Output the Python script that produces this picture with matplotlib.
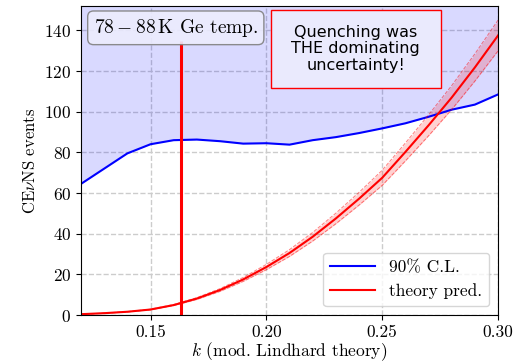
import matplotlib
matplotlib.use("Agg")
import matplotlib.pyplot as plt
from matplotlib.patches import Rectangle
import numpy as np

plt.rcParams['font.family'] = 'cmr10'
plt.rcParams['mathtext.fontset'] = 'cm'
plt.rcParams['axes.formatter.use_mathtext'] = True
plt.rcParams['axes.unicode_minus'] = False

# 90% C.L. upper limit
k_cl = [0.12, 0.14, 0.15, 0.16, 0.17, 0.18, 0.19, 0.20, 0.21, 0.22, 0.23,
        0.24, 0.25, 0.26, 0.27, 0.28, 0.29, 0.30]
n_cl = [64.5, 79.5, 84.0, 86.0, 86.3, 85.5, 84.3, 84.5, 83.8, 86.0, 87.5,
        89.5, 91.8, 94.3, 97.5, 101.0, 103.5, 108.5]

# theory prediction
k_th = [0.12, 0.13, 0.14, 0.15, 0.16, 0.17, 0.18, 0.19, 0.20, 0.21, 0.22,
        0.23, 0.24, 0.25, 0.26, 0.27, 0.28, 0.29, 0.30]
n_th = [0.4, 0.9, 1.6, 2.7, 4.9, 8.1, 12.3, 17.5, 23.6, 30.5, 38.5,
        47.5, 57.2, 67.5, 80.2, 93.3, 107.0, 121.8, 137.5]
rel_err = 0.055

k_temp = 0.163
temp_top = 135

k_th = np.array(k_th)
n_th = np.array(n_th)

fig = plt.figure(figsize=(5.14, 3.64), dpi=100)
ax = fig.add_axes([0.1576, 0.1346, 0.8114, 0.8489])

ymax = 152
ax.fill_between(k_cl, n_cl, ymax, color='blue', alpha=0.15, lw=0)
ax.plot(k_cl, n_cl, color='blue', lw=1.5, label='90% C.L.')

ax.fill_between(k_th, n_th * (1 - rel_err), n_th * (1 + rel_err), color='red', alpha=0.18, lw=0)
ax.plot(k_th, n_th * (1 - rel_err), color='red', lw=0.7, ls='--', alpha=0.5)
ax.plot(k_th, n_th * (1 + rel_err), color='red', lw=0.7, ls='--', alpha=0.5)
ax.plot(k_th, n_th, color='red', lw=1.5, label='theory pred.')

ax.vlines(k_temp, 0, temp_top, color='red', lw=2.2)

ax.set_xlim(0.12, 0.30)
ax.set_ylim(0, ymax)
ax.set_xticks([0.15, 0.20, 0.25, 0.30])
ax.set_xticklabels(['0.15', '0.20', '0.25', '0.30'])
ax.set_yticks([0, 20, 40, 60, 80, 100, 120, 140])
ax.tick_params(labelsize=12.5)
ax.grid(True, ls='--', color='0.8', lw=1)
ax.set_axisbelow(True)

ax.set_xlabel(r'$k$ (mod. Lindhard theory)', fontsize=12.5, labelpad=0)
ax.set_ylabel(r'CE$\nu$NS events', fontsize=12)

ax.text(0.03, 0.965, r'$78-88\,\mathrm{K}$ Ge temp.', transform=ax.transAxes,
        ha='left', va='top', fontsize=14,
        bbox=dict(boxstyle='round,pad=0.3', fc='#ececfd', ec='0.5', alpha=0.9))

ax.add_patch(Rectangle((0.4556, 0.735), 0.4074, 0.252, transform=ax.transAxes,
                       fc='#eaeafd', ec='red', lw=1, zorder=5))
ax.text(0.659, 0.861, 'Quenching was\nTHE dominating\nuncertainty!', transform=ax.transAxes,
        ha='center', va='center', fontsize=11.5, family='DejaVu Sans', zorder=6,
        linespacing=1.15)

ax.legend(loc='lower right', fontsize=12.5, framealpha=0.8, fancybox=True,
          handlelength=2.6)

fig.savefig('out.png', dpi=100)
